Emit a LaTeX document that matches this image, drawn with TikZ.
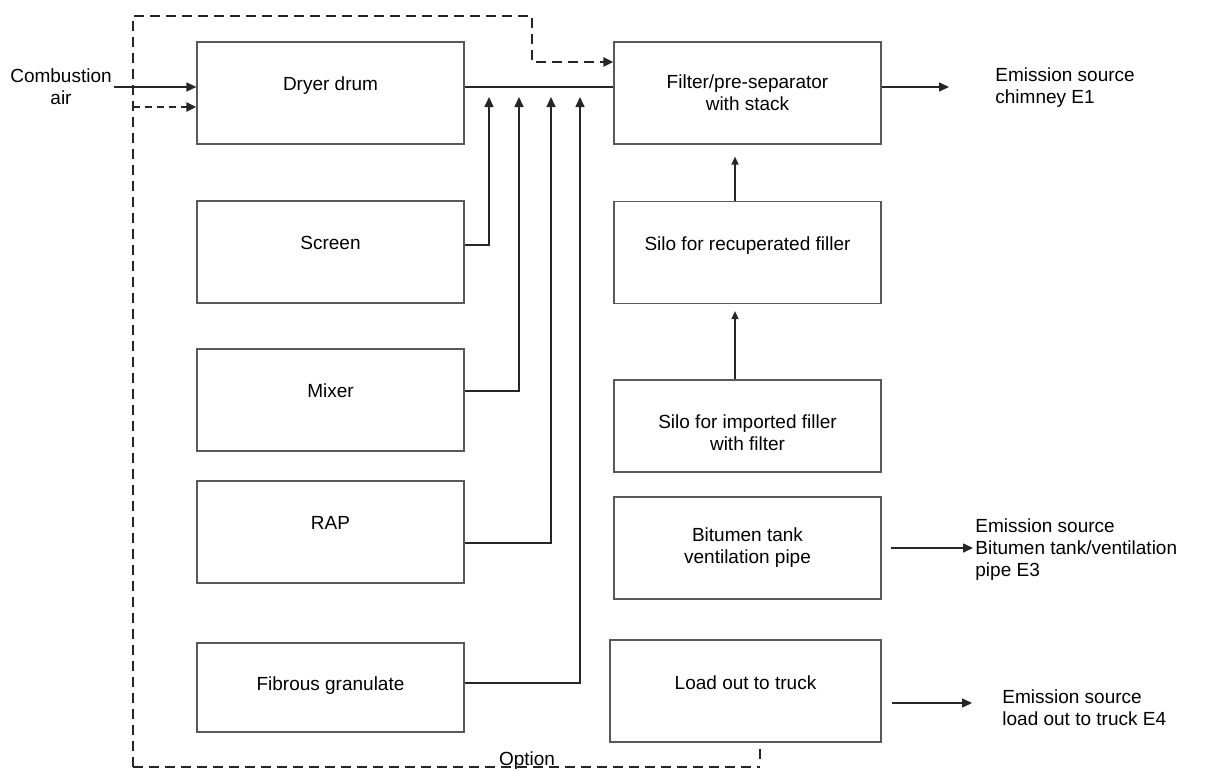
\documentclass[tikz,border=0pt]{standalone}
\usepackage{fontspec}
\setmainfont{Liberation Sans}
\usetikzlibrary{arrows.meta}

\begin{document}
\begin{tikzpicture}[x=0.5pt, y=-0.5pt,
                    font=\fontsize{9.5}{11}\selectfont,
                    box/.style={draw=black!65, line width=0.6pt, minimum width=133.5pt, minimum height=51pt, align=center, inner sep=1pt},
                    onebox/.style={box, text depth=9pt},
                    conn/.style={draw=black!85, line width=0.75pt},
                    tip/.style={-{Triangle[length=5pt, width=4.5pt]}},
                    smalltip/.style={-{Triangle[length=4pt, width=3.5pt]}},
                    optline/.style={draw=black!85, line width=1pt, dash pattern=on 5pt off 3pt},
                    emission/.style={anchor=west, align=left, inner sep=1pt}]
                    \useasboundingbox (0,0) rectangle (1218,771);

                    \node[onebox] (dryer) at (330.5,93) {Dryer drum};
                    \node[onebox] (screen) at (330.5,252) {Screen};
                    \node[onebox] (mixer) at (330.5,400) {Mixer};
                    \node[onebox] (rap) at (330.5,532) {RAP};
                    \node[onebox, minimum height=44.5pt, text depth=4pt] (fibrous) at (330.5,687.5) {Fibrous granulate};

                    \node[box] (filter) at (747.5,93) {Filter/pre-separator\\with stack};
                    \node[onebox] (recup) at (747.5,252.5) {Silo for recuperated filler};
                    \node[box, minimum height=46pt, text height=25pt] (imported) at (747.5,426) {Silo for imported filler\\with filter};
                    \node[box] (bitumen) at (747.5,548) {Bitumen tank\\ventilation pipe};
                    \node[onebox, minimum width=135.5pt, text depth=8pt] (loadout) at (745.5,691) {Load out to truck};

                    \node[align=center, inner sep=1pt] (air) at (61,87) {Combustion\\air};
                    \node[emission] (e1) at (993,88) {Emission source\\chimney E1};
                    \node[emission] (e3) at (973,550) {Emission source\\Bitumen tank/ventilation\\pipe E3};
                    \node[emission] (e4) at (1000,708) {Emission source\\load out to truck E4};
                    \node[anchor=base, inner sep=0pt] (option) at (527,765) {Option};

                    \coordinate (optBL) at (133,767);
                    \coordinate (optTL) at (133,16);
                    \coordinate (optTR) at (532,16);
                    \coordinate (optBR) at (760,767);
                    \coordinate (optTick) at (760,749);
                    \coordinate (inA) at (489,97);
                    \coordinate (inB) at (519,97);
                    \coordinate (inC) at (551,97);
                    \coordinate (inD) at (580,97);

                    \draw[conn, tip] (air.east) -- (air.east -| dryer.west);
                    \draw[optline, tip, dash pattern=on 3.5pt off 2.5pt] ([yshift=-7pt]dryer.west -| optBL) -- ([yshift=-7pt]dryer.west);
                    \draw[optline, tip] (optBL) -- (optTL) -- (optTR) |- ([yshift=15.5pt]filter.west);
                    \draw[optline] (optBL) -- (optBR);
                    \draw[optline] (optTick) -- ++(0,10);

                    \draw[conn] ([yshift=3pt]dryer.east) -- ([yshift=3pt]filter.west);
                    \draw[conn, tip] ([yshift=3.5pt]screen.east) -| (inA);
                    \draw[conn, tip] ([yshift=4.5pt]mixer.east) -| (inB);
                    \draw[conn, tip] ([yshift=-5.5pt]rap.east) -| (inC);
                    \draw[conn, tip] ([yshift=2.25pt]fibrous.east) -| (inD);

                    \draw[conn, tip, shorten >=22pt] ([yshift=3pt]filter.east) -- ([yshift=3pt]filter.east -| e1.west);
                    \draw[conn, smalltip, shorten >=6pt] ([xshift=-6.25pt]recup.north) -- ([xshift=-6.25pt]filter.south);
                    \draw[conn, smalltip, shorten >=3.5pt] ([xshift=-6.25pt]imported.north) -- ([xshift=-6.25pt]recup.south);
                    \draw[conn, tip, shorten <=4.5pt] (bitumen.east) -- (bitumen.east -| e3.west);
                    \draw[conn, tip, shorten <=5pt, shorten >=14pt] ([yshift=-6pt]loadout.east) -- ([yshift=-6pt]loadout.east -| e4.west);
                \end{tikzpicture}
\end{document}
